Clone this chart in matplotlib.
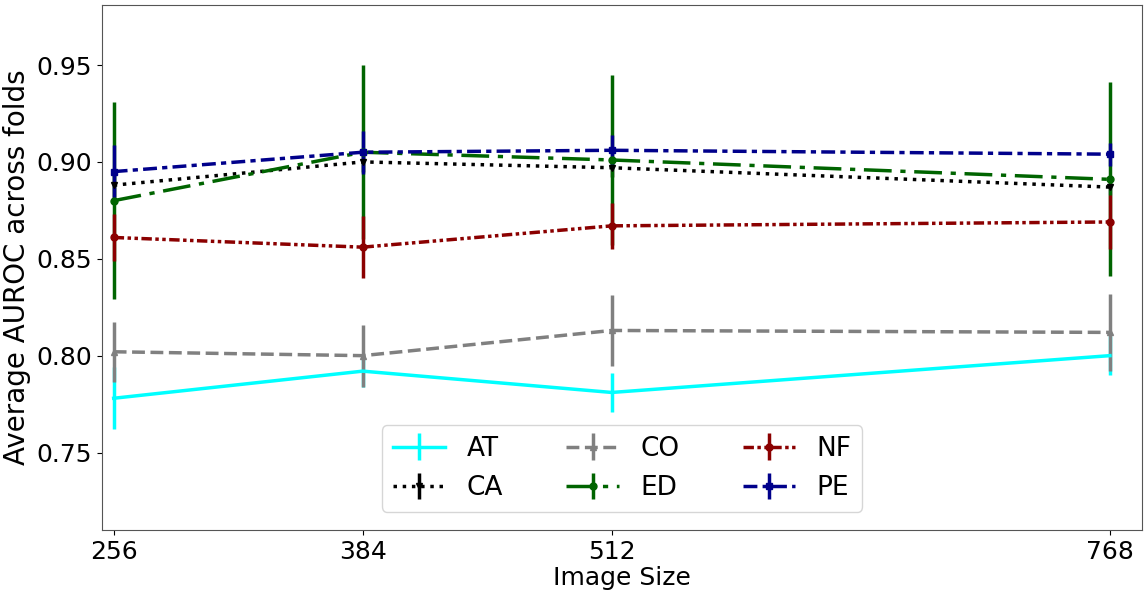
import matplotlib
matplotlib.use("Agg")
import matplotlib.pyplot as plt

sizes = [256, 384, 512, 768]

at_mean = [0.778, 0.792, 0.781, 0.800]
at_err = [0.016, 0.008, 0.010, 0.010]
ca_mean = [0.888, 0.900, 0.897, 0.887]
ca_err = [0.006, 0.005, 0.005, 0.004]
co_mean = [0.802, 0.800, 0.813, 0.812]
co_err = [0.0155, 0.016, 0.0185, 0.020]
ed_mean = [0.880, 0.905, 0.901, 0.891]
ed_err = [0.051, 0.045, 0.044, 0.050]
nf_mean = [0.861, 0.856, 0.867, 0.869]
nf_err = [0.012, 0.016, 0.012, 0.014]
pe_mean = [0.895, 0.905, 0.906, 0.904]
pe_err = [0.0135, 0.011, 0.008, 0.006]

series = [
    ("AT", at_mean, at_err, "cyan", "-", None),
    ("CA", ca_mean, ca_err, "black", ":", "v"),
    ("CO", co_mean, co_err, "gray", "--", "^"),
    ("ED", ed_mean, ed_err, "darkgreen", (0, (8, 2.5, 1.5, 2.5)), "o"),
    ("NF", nf_mean, nf_err, "darkred", (0, (3, 1, 1, 1, 1, 1)), "o"),
    ("PE", pe_mean, pe_err, "darkblue", (0, (4, 1.5, 1.5, 1.5)), "s"),
]

fig = plt.figure(figsize=(11.44, 5.95), dpi=100)
ax = fig.add_axes([102 / 1144, 65 / 595, 1040 / 1144, 525 / 595])

for name, mean, err, color, ls, marker in series:
    ax.errorbar(sizes, mean, yerr=err, label=name, color=color, linestyle=ls,
                marker=marker, markersize=5, linewidth=2.5, elinewidth=2.5)

ax.set_xlim(250, 784.5)
ax.set_ylim(0.710, 0.981)
ax.set_xticks(sizes)
ax.set_yticks([0.75, 0.80, 0.85, 0.90, 0.95])
ax.tick_params(labelsize=18)
for spine in ax.spines.values():
    spine.set_color("#555555")
ax.set_xlabel("Image Size", fontsize=18, labelpad=2)
ax.set_ylabel("Average AUROC across folds", fontsize=20, labelpad=4)
ax.legend(loc="lower center", ncol=3, fontsize=19, columnspacing=2.4,
          bbox_to_anchor=(0.5, 0.01))

fig.savefig("out.png", dpi=100)
